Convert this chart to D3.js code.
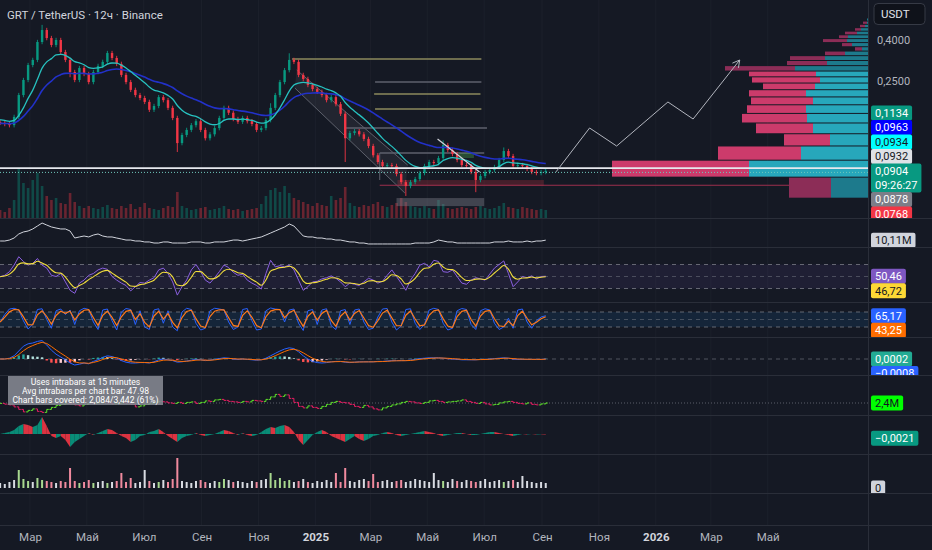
<!DOCTYPE html>
<html>
<head>
<meta charset="utf-8">
<script src="https://cdn.jsdelivr.net/npm/d3@7/dist/d3.min.js"></script>
<style>
html, body { margin: 0; padding: 0; background: #151924; overflow: hidden; }
svg { display: block; font-family: Roboto, "Noto Sans", "DejaVu Sans", sans-serif; }
</style>
</head>
<body>
<svg id="chart" width="932" height="550"></svg>
<script>
// GRT / USDT 12h (one value every 5 days)
const startDay = new Date(2024, 0, 29);
const stepDays = 5;

const closes = [0.156,0.154,0.152,0.167,0.214,0.254,0.301,0.319,0.391,0.448,
  0.409,0.378,0.400,0.349,0.319,0.278,0.254,0.291,0.272,0.248,
  0.278,0.298,0.312,0.345,0.326,0.305,0.269,0.248,0.227,0.214,
  0.207,0.198,0.181,0.189,0.209,0.202,0.185,0.165,0.124,0.136,
  0.144,0.152,0.159,0.144,0.131,0.137,0.147,0.165,0.185,0.175,
  0.163,0.158,0.165,0.159,0.154,0.144,0.147,0.161,0.185,0.214,
  0.248,0.284,0.319,0.312,0.269,0.257,0.240,0.229,0.222,0.214,
  0.202,0.209,0.193,0.173,0.131,0.139,0.142,0.137,0.130,0.120,
  0.108,0.100,0.0956,0.0966,0.0956,0.0872,0.0796,0.0761,0.0796,0.0824,
  0.0882,0.0956,0.100,0.0988,0.1046,0.1213,0.1146,0.1095,0.1023,0.0966,
  0.0956,0.0893,0.0815,0.0853,0.0893,0.0913,0.0945,0.1023,0.1133,0.1070,
  0.0956,0.0966,0.0956,0.0924,0.0893,0.0882,0.0893,0.0904];

// notable wicks (index -> price)
const wickHighs = {9: 0.475, 62: 0.344, 95: 0.128, 108: 0.118, 58: 0.195};
const wickLows = {38: 0.112, 74: 0.100, 87: 0.068, 102: 0.071, 15: 0.262};

const volumes = [8,6,10,18,50,35,30,38,45,32,
  22,18,20,15,14,25,16,12,10,12,
  10,9,11,13,10,9,12,10,14,9,
  11,15,10,9,8,10,12,11,26,12,
  10,8,9,10,11,8,9,10,12,9,
  8,9,7,8,9,10,14,22,28,30,
  26,32,25,20,18,16,14,12,15,13,
  12,22,18,20,31,15,12,11,13,12,
  14,16,12,11,13,15,20,16,12,11,
  10,12,10,9,18,14,10,9,10,11,
  10,9,11,12,10,9,10,12,15,11,
  10,9,11,10,9,8,9,8];

const obvValues = [9.2,9.2,10.2,12.3,16.5,18.6,19.6,21.7,24.8,27.9,
  25.8,23.8,22.7,21.7,21.7,19.6,12.3,13.4,14.4,13.4,
  15.4,16.5,14.4,13.4,13.4,12.3,11.3,10.2,10.2,9.2,
  9.2,8.2,8.2,7.1,7.1,8.2,8.2,7.1,7.1,7.1,
  7.1,8.2,8.2,8.2,7.1,7.1,8.2,8.2,8.2,9.2,
  10.2,10.2,9.2,10.2,11.3,12.3,13.4,15.4,17.5,19.6,
  21.7,23.8,26.9,24.8,19.6,14.4,13.4,13.4,12.3,12.3,
  11.3,11.3,10.2,10.2,9.2,8.2,8.2,7.1,7.1,6.1,
  6.1,6.1,6.1,6.1,6.1,6.1,6.1,6.1,6.1,7.1,
  7.1,7.1,7.1,8.2,10.2,9.2,8.2,8.2,7.1,7.1,
  7.1,7.1,7.1,7.1,7.1,7.1,8.2,8.2,8.2,9.2,
  8.2,8.2,8.2,9.2,8.2,9.2,9.2,10.11];

const rsiValues = [49.7,52,58,69,83,75,69,72,80,69,
  64,52,50,55,41,27,22,39,44,52,
  55,61,64,62,50,44,39,35,26,33,
  40,39,44,48,61,64,55,41,19,33,
  44,61,70,58,44,39,48,58,69,65,
  57,52,54,44,39,35,29,55,77,66,
  68,66,69,61,44,27,33,41,42,46,
  48,51,47,41,33,39,37,35,41,47,
  44,39,42,52,61,50,39,27,44,55,
  69,72,66,77,75,58,57,61,50,39,
  37,44,48,46,44,54,64,70,76,55,
  33,41,50,48,51,46,50,50.46];

const stochK = [40,70,92,95,88,45,12,30,90,93,
  50,15,85,92,70,88,30,85,95,90,
  40,10,88,92,45,8,80,94,90,30,
  85,20,10,88,93,35,85,20,5,80,
  95,90,35,8,15,85,95,92,88,40,
  10,20,90,94,45,8,12,85,96,92,
  90,40,88,92,35,6,85,90,30,88,
  93,25,10,85,90,30,88,92,40,10,
  15,60,92,94,40,8,25,90,93,35,
  10,30,88,95,90,35,8,15,85,94,
  90,30,10,85,93,88,35,10,20,55,
  15,88,92,40,15,45,60,65.17];

const macdValues = [0,0,0.002,0.008,0.020,0.032,0.038,0.040,0.044,0.046,
  0.035,0.022,0.012,0.005,-0.002,-0.010,-0.015,-0.013,-0.010,-0.012,
  -0.006,-0.002,0.004,0.008,0.006,0.002,-0.004,-0.008,-0.010,-0.010,
  -0.009,-0.009,-0.010,-0.007,-0.002,0,-0.002,-0.004,-0.008,-0.007,
  -0.005,-0.003,-0.001,-0.002,-0.004,-0.003,-0.001,0.001,0.003,0.002,
  0,-0.001,0,-0.001,-0.002,-0.003,-0.002,0.002,0.008,0.014,
  0.020,0.025,0.028,0.026,0.018,0.008,0,-0.006,-0.009,-0.010,
  -0.009,-0.007,-0.006,-0.006,-0.008,-0.009,-0.008,-0.007,-0.007,-0.007,
  -0.007,-0.006,-0.006,-0.005,-0.004,-0.004,-0.004,-0.004,-0.003,-0.001,
  0.001,0.002,0.003,0.003,0.003,0.002,0.001,0,-0.001,-0.002,
  -0.002,-0.002,-0.002,-0.001,-0.001,0,0.001,0.002,0.003,0.002,
  0,-0.001,-0.001,-0.001,-0.001,-0.001,-0.001,0.0002];

// cumulative delta, millions
const deltaValues = [2.0,1.2,0.5,-1.5,-4.0,-6.5,-5.0,-3.5,-6.0,-7.0,
  -4.0,-2.0,0,1.0,2.0,1.5,0.5,-0.5,1.0,2.5,
  2.0,3.0,3.5,2.5,1.5,2.0,3.0,2.5,1.0,-1.5,
  -0.5,1.0,2.0,3.0,4.0,3.5,2.5,2.0,3.0,2.0,
  3.0,3.5,2.0,3.0,4.5,4.0,5.5,6.0,5.0,4.0,
  3.5,3.0,4.0,3.5,5.0,4.5,4.0,6.0,8.5,11.0,
  9.0,10.5,7.0,3.0,-1.0,-2.5,-0.5,-2.0,-3.0,-1.0,
  1.0,3.0,4.0,3.0,2.5,1.0,-1.0,-2.0,0,-1.5,
  -3.5,-4.5,-2.5,-1.0,0.5,1.5,3.0,4.0,3.5,2.5,
  2.0,3.0,4.5,5.0,4.0,3.0,3.5,4.0,4.5,5.5,
  4.0,3.0,2.0,3.0,1.5,0.5,1.0,2.5,3.5,4.0,
  3.0,2.0,1.5,2.5,1.0,0.5,1.5,2.4];

// oscillator area, units of 0.001
const histValues = [0,0.5,1,2,4,5,4.5,3.5,4.5,8.5,
  4,-1,-2,-1,-3,-6.5,-4,-2.5,-1,0.5,
  -0.5,0.5,1.5,2.5,2,0.5,-1,-2,-4,-3,
  -1,-0.5,1,1.5,2.5,1,-1,-2.5,-4,-2,
  -1,-0.5,0.5,-0.5,-1,-0.5,0,1,2,1.5,
  0.5,-0.5,0.5,-0.5,-1,-0.5,1,2.5,3.5,3,
  4,4.5,3.5,1,-3,-5.5,-3,-0.5,1,2,
  1,-1,-2,-3,-4,-2.5,-1,-2.5,-3.5,-2.5,
  -1,-0.5,0.5,1,0.5,-0.5,-1,-0.5,0,0.5,
  1,1.5,1,0.5,-0.5,-1,-0.5,0,0.5,0.5,
  0,-0.5,-0.5,0,0.5,1,1,0.5,0,-0.5,
  -1,-0.5,0,-0.3,0,-0.2,-0.1,-0.2];

const lowerVolumes = [5,4,6,8,18,9,7,6,10,8,
  7,6,5,7,6,20,7,5,6,8,
  5,6,7,5,6,7,15,6,10,5,
  6,18,7,5,6,8,6,9,30,7,
  6,5,7,8,6,5,7,6,9,8,
  6,7,6,5,7,6,8,9,15,8,
  10,7,8,6,7,9,6,5,7,6,
  8,6,15,6,20,7,6,8,9,7,
  14,6,7,8,6,7,8,6,7,9,
  8,7,6,15,8,7,6,9,7,6,
  8,7,6,7,9,6,7,8,6,7,
  8,6,12,7,6,5,6,5];

// volume profile rows (from 0.0663 up, 0.0179 each)
const profileLow = 0.0663, profileStep = 0.0179;
const profileBuy = [37,119,67,38,55,61,62,55,62,53,48,52,73,41,43,23,6,16,21,20,11,7,3,1,1];
const profileSell = [42,137,83,46,57,65,59,62,57,52,68,67,70,40,35,20,7,10,24,9,12,6,5,4,0];
const valueArea = [1, 11];

// drawings: [date, price]
const fibLevels = [
  ["2024-12-07", "2025-06-28", 0.3223, "khaki"],
  ["2025-03-06", "2025-06-28", 0.2482, "gray"],
  ["2025-03-05", "2025-06-27", 0.2166, "khaki"],
  ["2025-03-06", "2025-06-28", 0.1826, "khaki"],
  ["2025-02-01", "2025-07-04", 0.1472, "gray"],
  ["2025-03-11", "2025-07-01", 0.1108, "gray"]
];
const channelPts = [["2024-12-12", 0.2844], ["2025-04-10", 0.0966], ["2025-04-07", 0.0703], ["2024-12-10", 0.2318]];
const trendPts = [["2025-05-12", 0.1299], ["2025-06-26", 0.0893]];
const greyBox = [["2025-03-29", 0.0664], ["2025-07-01", 0.0606]];
const redBand = [["2025-03-30", 0.0815], ["2025-09-03", 0.0761]];
const greenBox = [["2025-06-04", 0.1108], ["2025-06-20", 0.1046]];
const supportRay = ["2025-03-11", 0.0768];
const whiteLevel = 0.0932;
const projection = [["2025-09-16", 0.0894], ["2025-10-22", 0.1472], ["2025-11-20", 0.1199],
  ["2026-01-14", 0.1978], ["2026-02-10", 0.1630], ["2026-04-01", 0.3187]];

const priceTicks = [0.4, 0.25];
const monthNames = ["Янв","Фев","Мар","Апр","Май","Июн","Июл","Авг","Сен","Окт","Ноя","Дек"];

const priceLabels = [
  {v: 0.1134, bg: "#089981", fg: "#ffffff"},
  {v: 0.0963, bg: "#0000ff", fg: "#ffffff"},
  {v: 0.0934, bg: "#00ffff", fg: "#131722"},
  {v: 0.0932, bg: "#dfe1e6", fg: "#131722"},
  {v: 0.0904, bg: "#089981", fg: "#ffffff", sub: "09:26:27"},
  {v: 0.0878, bg: "#7b7e88", fg: "#ffffff"},
  {v: 0.0768, bg: "#f23645", fg: "#ffffff"}
];

const BG = "#151924", GRID = "#1c202b", SEP = "#2a2e39", TXT = "#b2b5be";
const UP = "#089981", DOWN = "#f23645";
const PR = 868;

const parse = d3.timeParse("%Y-%m-%d");
const dates = closes.map((d, i) => d3.timeDay.offset(startDay, stepDays * i));
const fmt4 = v => d3.format(".4f")(v).replace(".", ",").replace("-", "−");

const x = d3.scaleTime().domain([new Date(2024, 0, 1), new Date(2026, 0, 1)]).range([-26, 655.8]);
const priceY = d3.scaleLog().domain([0.4, 0.0904]).range([40, 170.9]);
const volY = d3.scaleLinear().domain([0, 60]).range([218, 158]);
const obvY = d3.scaleLinear().domain([4, 30]).range([246, 221]);
const rsiY = d3.scaleLinear().domain([30, 70]).range([288.5, 264.5]);
const stochY = d3.scaleLinear().domain([20, 80]).range([327, 312]);
const macdY = d3.scaleLinear().domain([0, 0.01]).range([359, 355]);
const deltaY = d3.scaleLinear().domain([0, 10]).range([405.4, 395.4]);
const histY = d3.scaleLinear().domain([0, 1]).range([434, 432]);
const lvolY = d3.scaleLinear().domain([0, 10]).range([488, 478]);

const panes = [[0, 218], [218, 247], [247, 302], [302, 337], [337, 375], [375, 415], [415, 454], [454, 493], [493, 525]];

function ema(arr, a, seed) {
  let p = seed === undefined ? arr[0] : seed;
  return arr.map(v => (p = p + a * (v - p)));
}

const svg = d3.select("#chart");
const defs = svg.append("defs");
function clip(id, x0, y0, x1, y1) {
  defs.append("clipPath").attr("id", id).append("rect")
    .attr("x", x0).attr("y", y0).attr("width", x1 - x0).attr("height", y1 - y0);
  return "url(#" + id + ")";
}

svg.append("rect").attr("width", 932).attr("height", 550).attr("fill", BG);

// vertical grid at the 2-month ticks
const monthTicks = d3.timeMonth.every(2).range(new Date(2024, 1, 1), new Date(2026, 5, 2));
svg.append("g").selectAll("line").data(monthTicks).join("line")
  .attr("x1", d => x(d)).attr("x2", d => x(d)).attr("y1", 0).attr("y2", 525)
  .attr("stroke", GRID).attr("stroke-width", 1);

// ---------- main pane ----------
const main = svg.append("g").attr("clip-path", clip("cMain", 0, 0, PR, 218));
const candles = closes.map((c, i) => {
  const o = i ? closes[i - 1] : c * 1.01;
  const h = wickHighs[i] || Math.max(o, c) * 1.025;
  const l = wickLows[i] || Math.min(o, c) * 0.975;
  return {d: dates[i], o, c, h, l, v: volumes[i]};
});

main.append("g").selectAll("rect").data(candles).join("rect")
  .attr("x", d => x(d.d) - 1.3).attr("width", 2.6)
  .attr("y", d => volY(d.v)).attr("height", d => 218 - volY(d.v))
  .attr("fill", d => d.c >= d.o ? UP : DOWN).attr("opacity", 0.38);

// parallel channel
main.append("path")
  .attr("d", d3.line()(channelPts.map(p => [x(parse(p[0])), priceY(p[1])])) + "Z")
  .attr("fill", "rgba(120,123,134,0.13)").attr("stroke", "none");
[[0, 1], [3, 2]].forEach(([a, b]) => {
  main.append("line")
    .attr("x1", x(parse(channelPts[a][0]))).attr("y1", priceY(channelPts[a][1]))
    .attr("x2", x(parse(channelPts[b][0]))).attr("y2", priceY(channelPts[b][1]))
    .attr("stroke", "#787b86").attr("stroke-opacity", 0.7).attr("stroke-width", 1);
});

// fib-like levels
fibLevels.forEach(f => {
  main.append("line")
    .attr("x1", x(parse(f[0]))).attr("x2", x(parse(f[1])))
    .attr("y1", priceY(f[2])).attr("y2", priceY(f[2]))
    .attr("stroke", f[3] === "khaki" ? "#8d8a5c" : "#5e616c").attr("stroke-width", 1.5);
});
const lastFib = fibLevels[fibLevels.length - 1];
main.append("line")
  .attr("x1", x(parse(lastFib[0]))).attr("x2", x(parse(lastFib[0])))
  .attr("y1", priceY(lastFib[2])).attr("y2", priceY(redBand[0][1]))
  .attr("stroke", "#5e616c").attr("stroke-width", 1);

// boxes
function box(pts, fill) {
  const x0 = x(parse(pts[0][0])), x1 = x(parse(pts[1][0]));
  const y0 = priceY(pts[0][1]), y1 = priceY(pts[1][1]);
  main.append("rect").attr("x", x0).attr("y", y0).attr("width", x1 - x0).attr("height", y1 - y0).attr("fill", fill);
}
box(greyBox, "rgba(120,123,134,0.45)");
box(redBand, "rgba(242,54,69,0.22)");
box(greenBox, "rgba(76,175,80,0.35)");

main.append("line")
  .attr("x1", x(parse(supportRay[0]))).attr("x2", PR)
  .attr("y1", priceY(supportRay[1])).attr("y2", priceY(supportRay[1]))
  .attr("stroke", "#9c2f4c").attr("stroke-width", 1.2);

// volume profile
const profileX = d3.scaleLinear().domain([0, 256]).range([PR, PR - 256]);
const rows = profileBuy.map((b, k) => ({
  k, b, s: profileSell[k],
  top: priceY(profileLow + (k + 1) * profileStep),
  bot: priceY(profileLow + k * profileStep),
  va: k >= valueArea[0] && k <= valueArea[1]
}));
const prof = main.append("g");
prof.selectAll("rect.buy").data(rows).join("rect").attr("class", "buy")
  .attr("x", d => profileX(d.b)).attr("width", d => PR - profileX(d.b))
  .attr("y", d => d.top + 0.5).attr("height", d => Math.max(1, d.bot - d.top - 1))
  .attr("fill", d => d.va ? "#27a7bb" : "#1d7a8c");
prof.selectAll("rect.sell").data(rows).join("rect").attr("class", "sell")
  .attr("x", d => profileX(d.b + d.s)).attr("width", d => profileX(d.b) - profileX(d.b + d.s))
  .attr("y", d => d.top + 0.5).attr("height", d => Math.max(1, d.bot - d.top - 1))
  .attr("fill", d => d.va ? "#cc3b6b" : "#8c2d57");

// candles
const cg = main.append("g");
cg.selectAll("line").data(candles).join("line")
  .attr("x1", d => x(d.d)).attr("x2", d => x(d.d))
  .attr("y1", d => priceY(d.h)).attr("y2", d => priceY(d.l))
  .attr("stroke", d => d.c >= d.o ? UP : DOWN).attr("stroke-width", 0.9);
cg.selectAll("rect").data(candles).join("rect")
  .attr("x", d => x(d.d) - 1.2).attr("width", 2.4)
  .attr("y", d => priceY(Math.max(d.o, d.c)))
  .attr("height", d => Math.max(1, Math.abs(priceY(d.o) - priceY(d.c))))
  .attr("fill", d => d.c >= d.o ? UP : DOWN);

// moving averages
const fastMA = ema(closes, 0.18, 0.163);
const slowMA = ema(closes, 0.08, 0.155);
const maLine = d3.line().x((d, i) => x(dates[i])).y(d => priceY(d)).curve(d3.curveMonotoneX);
main.append("path").attr("d", maLine(slowMA)).attr("fill", "none").attr("stroke", "#2231c9").attr("stroke-width", 1.6);
main.append("path").attr("d", maLine(fastMA)).attr("fill", "none").attr("stroke", "#27c2c0").attr("stroke-width", 1.3);

// trend line
main.append("line")
  .attr("x1", x(parse(trendPts[0][0]))).attr("y1", priceY(trendPts[0][1]))
  .attr("x2", x(parse(trendPts[1][0]))).attr("y2", priceY(trendPts[1][1]))
  .attr("stroke", "#d1d4dc").attr("stroke-width", 1.2);

// horizontal levels
main.append("line").attr("x1", 0).attr("x2", PR)
  .attr("y1", priceY(whiteLevel)).attr("y2", priceY(whiteLevel))
  .attr("stroke", "#e6e8ee").attr("stroke-width", 1.8);
main.append("line").attr("x1", 0).attr("x2", PR)
  .attr("y1", priceY(closes[closes.length - 1]) + 1.5).attr("y2", priceY(closes[closes.length - 1]) + 1.5)
  .attr("stroke", "#6fc7bc").attr("stroke-width", 1).attr("stroke-dasharray", "1,2");

// projected path with arrow
const projPts = projection.map(p => [x(parse(p[0])), priceY(p[1])]);
main.append("path").attr("d", d3.line()(projPts)).attr("fill", "none").attr("stroke", "#b2b5be").attr("stroke-width", 1);
{
  const [ax, ay] = projPts[projPts.length - 1], [bx, by] = projPts[projPts.length - 2];
  const ang = Math.atan2(ay - by, ax - bx);
  const head = [ang + Math.PI - 0.5, ang + Math.PI + 0.5].map(a => [ax + 8 * Math.cos(a), ay + 8 * Math.sin(a)]);
  main.append("path").attr("d", d3.line()([head[0], [ax, ay], head[1]]))
    .attr("fill", "none").attr("stroke", "#b2b5be").attr("stroke-width", 1);
}

svg.append("text").attr("x", 7).attr("y", 19).attr("fill", "#d1d4dc").attr("font-size", 11.5)
  .text("GRT / TetherUS · 12ч · Binance");

// ---------- indicator panes ----------
const lineOf = yScale => d3.line().x((d, i) => x(dates[i])).y(d => yScale(d));

// pane 2: white cumulative line
const p2 = svg.append("g").attr("clip-path", clip("c2", 0, 218, PR, 247));
p2.append("path").attr("d", lineOf(obvY)(obvValues)).attr("fill", "none").attr("stroke", "#d1d4dc").attr("stroke-width", 1);

// pane 3: RSI
const p3 = svg.append("g").attr("clip-path", clip("c3", 0, 247, PR, 302));
p3.append("rect").attr("x", 0).attr("width", PR).attr("y", rsiY(70)).attr("height", rsiY(30) - rsiY(70))
  .attr("fill", "rgba(126,87,194,0.1)");
[70, 50, 30].forEach(v => p3.append("line").attr("x1", 0).attr("x2", PR).attr("y1", rsiY(v)).attr("y2", rsiY(v))
  .attr("stroke", "#787b86").attr("stroke-opacity", v === 50 ? 0.5 : 0.8).attr("stroke-dasharray", "4,4"));
p3.append("path").attr("d", lineOf(rsiY)(rsiValues)).attr("fill", "none").attr("stroke", "#8a5fe0").attr("stroke-width", 1);
p3.append("path").attr("d", lineOf(rsiY).curve(d3.curveMonotoneX)(ema(rsiValues, 0.45))).attr("fill", "none").attr("stroke", "#f2de3c").attr("stroke-width", 1.1);

// pane 4: stochastic
const p4 = svg.append("g").attr("clip-path", clip("c4", 0, 302, PR, 337));
p4.append("rect").attr("x", 0).attr("width", PR).attr("y", stochY(80)).attr("height", stochY(20) - stochY(80))
  .attr("fill", "rgba(33,150,243,0.1)");
[80, 50, 20].forEach(v => p4.append("line").attr("x1", 0).attr("x2", PR).attr("y1", stochY(v)).attr("y2", stochY(v))
  .attr("stroke", "#787b86").attr("stroke-opacity", v === 50 ? 0.5 : 0.8).attr("stroke-dasharray", "4,4"));
const stochD = ema(stochK, 0.65);
p4.append("path").attr("d", lineOf(stochY)(stochK)).attr("fill", "none").attr("stroke", "#2962ff").attr("stroke-width", 1);
p4.append("path").attr("d", lineOf(stochY)(stochD)).attr("fill", "none").attr("stroke", "#ff7a1a").attr("stroke-width", 1.2);

// pane 5: MACD
const p5 = svg.append("g").attr("clip-path", clip("c5", 0, 337, PR, 375));
p5.append("line").attr("x1", 0).attr("x2", PR).attr("y1", macdY(0)).attr("y2", macdY(0))
  .attr("stroke", "#787b86").attr("stroke-opacity", 0.6).attr("stroke-dasharray", "4,4");
const signal = ema(macdValues, 0.45, 0);
const macdHist = macdValues.map((v, i) => v - signal[i]);
p5.append("g").selectAll("rect").data(macdHist).join("rect")
  .attr("x", (d, i) => x(dates[i]) - 1.2).attr("width", 2.4)
  .attr("y", d => Math.min(macdY(d), macdY(0))).attr("height", d => Math.abs(macdY(d) - macdY(0)))
  .attr("fill", (d, i) => d >= 0 ? (i && d < macdHist[i - 1] ? "#b2dfdb" : "#26a69a") : (i && d > macdHist[i - 1] ? "#ffcdd2" : "#ff5252"));
p5.append("path").attr("d", lineOf(macdY)(macdValues)).attr("fill", "none").attr("stroke", "#2962ff").attr("stroke-width", 1);
p5.append("path").attr("d", lineOf(macdY)(signal)).attr("fill", "none").attr("stroke", "#ff6d00").attr("stroke-width", 1);

// pane 6: delta
const p6 = svg.append("g").attr("clip-path", clip("c6", 0, 375, PR, 415));
p6.append("line").attr("x1", 0).attr("x2", PR).attr("y1", deltaY(2.4)).attr("y2", deltaY(2.4))
  .attr("stroke", "#787b86").attr("stroke-opacity", 0.7).attr("stroke-dasharray", "1,2");
p6.append("g").selectAll("path").data(deltaValues).join("path")
  .attr("d", (d, i) => {
    const xi = x(dates[i]), y0 = deltaY(i ? deltaValues[i - 1] : d), y1 = deltaY(d);
    return `M${xi - 2},${y0}L${xi},${y0}L${xi},${y1}L${xi + 2},${y1}`;
  })
  .attr("fill", "none").attr("stroke-width", 1)
  .attr("stroke", (d, i) => (i && d < deltaValues[i - 1]) ? "#e91e63" : "#5ee32a");
svg.append("rect").attr("x", 8).attr("y", 376).attr("width", 155).attr("height", 29).attr("fill", "rgba(134,137,147,0.88)");
["Uses intrabars at 15 minutes", "Avg intrabars per chart bar: 47.98", "Chart bars covered: 2,084/3,442 (61%)"]
  .forEach((t, k) => svg.append("text").attr("x", 85.5).attr("y", 384.5 + k * 9).attr("text-anchor", "middle")
    .attr("fill", "#ffffff").attr("font-size", 8.6).text(t));

// pane 7: oscillator area
const p7 = svg.append("g").attr("clip-path", clip("c7", 0, 415, PR, 454));
p7.append("g").selectAll("path").data(histValues.slice(1)).join("path")
  .attr("d", (d, k) => {
    const a = histValues[k], x0 = x(dates[k]), x1 = x(dates[k + 1]);
    return `M${x0},${histY(0)}L${x0},${histY(a)}L${x1},${histY(d)}L${x1},${histY(0)}Z`;
  })
  .attr("fill", (d, k) => d >= histValues[k] ? "#089981" : "#f23645").attr("opacity", 0.9);

// pane 8: lower volume
const p8 = svg.append("g").attr("clip-path", clip("c8", 0, 454, PR, 493));
p8.append("g").selectAll("rect").data(lowerVolumes).join("rect")
  .attr("x", (d, i) => x(dates[i]) - 1).attr("width", 2)
  .attr("y", d => lvolY(d)).attr("height", d => lvolY(0) - lvolY(d))
  .attr("fill", (d, i) => {
    const c = candles[i];
    if (c.c < c.o * 0.94) return "#f08a9e";
    if (c.c > c.o * 1.1) return "#a8d88f";
    return "#d8dbe2";
  });

// ---------- separators ----------
svg.append("g").selectAll("line").data(panes.map(p => p[1])).join("line")
  .attr("x1", 0).attr("x2", 932).attr("y1", d => d + 0.5).attr("y2", d => d + 0.5)
  .attr("stroke", SEP).attr("stroke-width", 1);
svg.append("line").attr("x1", PR + 0.5).attr("x2", PR + 0.5).attr("y1", 0).attr("y2", 550)
  .attr("stroke", SEP).attr("stroke-width", 1);

// ---------- time axis ----------
const tAxis = svg.append("g").attr("transform", "translate(0,525)")
  .call(d3.axisBottom(x).tickValues(monthTicks.filter(d => x(d) > 5 && x(d) < 800)).tickSize(0).tickPadding(8)
    .tickFormat(d => d.getMonth() === 0 ? String(d.getFullYear()) : monthNames[d.getMonth()]));
tAxis.select(".domain").remove();
tAxis.selectAll("text").attr("fill", d => d.getMonth() === 0 ? "#d1d4dc" : TXT)
  .attr("font-weight", d => d.getMonth() === 0 ? "bold" : "normal")
  .attr("font-size", 11.5).attr("font-family", "Roboto, 'Noto Sans', sans-serif");

// ---------- price axis ----------
const pAxis = svg.append("g").attr("transform", `translate(${PR},0)`)
  .call(d3.axisRight(priceY).tickValues(priceTicks).tickSize(0).tickPadding(9).tickFormat(fmt4));
pAxis.select(".domain").remove();
pAxis.selectAll("text").attr("fill", TXT).attr("font-size", 11).attr("font-family", "Roboto, 'Noto Sans', sans-serif");

// USDT box
svg.append("rect").attr("x", 874).attr("y", 3.5).attr("width", 51).attr("height", 21).attr("rx", 4)
  .attr("fill", "#0f121a").attr("stroke", "#363a45");
svg.append("text").attr("x", 881).attr("y", 18).attr("fill", "#e0e3eb").attr("font-size", 11.5).text("USDT");

// ---------- scale labels ----------
function scaleLabel(g, y, lines, bg, fg) {
  const t = g.append("g").attr("transform", `translate(871,${y})`);
  const r = t.append("rect");
  let w = 0;
  lines.forEach((s, k) => {
    const tx = t.append("text").attr("x", 4).attr("y", 4 + k * 14).attr("fill", fg).attr("font-size", 11).text(s);
    w = Math.max(w, tx.node().getComputedTextLength());
  });
  r.attr("x", 0).attr("y", -7.5).attr("width", w + 8).attr("height", 15 + (lines.length - 1) * 14).attr("rx", 2).attr("fill", bg);
  t.selectAll("text").raise();
}

// main price labels are stacked around the last price label
const mainLab = svg.append("g").attr("clip-path", clip("cL0", PR, 0, 932, 218));
const anchor = priceLabels.findIndex(l => l.sub);
priceLabels.forEach(l => l.y = priceY(l.v));
for (let k = anchor - 1; k >= 0; k--) priceLabels[k].y = Math.min(priceLabels[k].y, priceLabels[k + 1].y - 14.5);
for (let k = anchor + 1; k < priceLabels.length; k++) {
  const prev = priceLabels[k - 1];
  priceLabels[k].y = Math.max(priceLabels[k].y, prev.y + (prev.sub ? 28.5 : 14.5));
}
priceLabels.forEach(l => scaleLabel(mainLab, l.y, l.sub ? [fmt4(l.v), l.sub] : [fmt4(l.v)], l.bg, l.fg));

const paneLabels = [
  {pane: 1, y: obvY, items: [[10.11, "10,11M", "#d1d4dc", "#131722"]]},
  {pane: 2, y: rsiY, items: [[50.46, "50,46", "#7e57c2", "#ffffff"], [46.72, "46,72", "#fdd835", "#131722"]]},
  {pane: 3, y: stochY, items: [[65.17, "65,17", "#2962ff", "#ffffff"], [43.25, "43,25", "#ff6d00", "#ffffff"]]},
  {pane: 4, y: macdY, items: [[0.0002, "0,0002", "#22ab94", "#ffffff"], [-0.0008, "−0,0008", "#2962ff", "#ffffff"]]},
  {pane: 5, y: deltaY, items: [[2.4, "2,4M", "#00ff00", "#131722"]]},
  {pane: 6, y: histY, items: [[-2.1, "−0,0021", "#089981", "#ffffff"]]},
  {pane: 7, y: lvolY, items: [[0, "0", "#d1d4dc", "#131722"]]}
];
paneLabels.forEach(p => {
  const [t, b] = panes[p.pane];
  const g = svg.append("g").attr("clip-path", clip("cL" + p.pane, PR, t + 1, 932, b));
  let last = -Infinity;
  p.items.map(it => ({it, y: p.y(it[0])})).sort((a, c) => a.y - c.y).forEach(o => {
    const y = Math.max(o.y, last + 14.5);
    last = y;
    scaleLabel(g, y, [o.it[1]], o.it[2], o.it[3]);
  });
});
</script>
</body>
</html>
